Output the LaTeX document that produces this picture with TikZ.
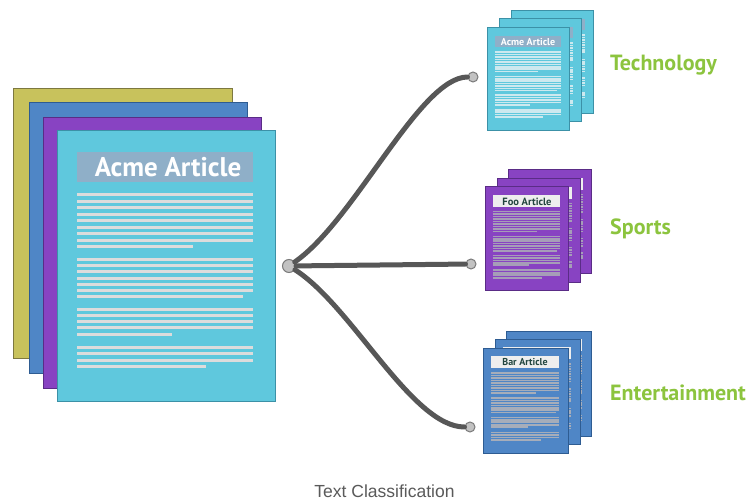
\documentclass[tikz,border=0pt]{standalone}
\usepackage{fontspec}
\setmainfont{Liberation Sans}
\newfontfamily\ptsans{PT Sans}

\definecolor{sheetyellow}{HTML}{C8C25C}
\definecolor{edgeyellow}{HTML}{7D7840}
\definecolor{sheetblue}{HTML}{4F86C6}
\definecolor{edgeblue}{HTML}{2E5C92}
\definecolor{sheetpurple}{HTML}{8843C2}
\definecolor{edgepurple}{HTML}{5A2C86}
\definecolor{sheetcyan}{HTML}{5FC8DD}
\definecolor{edgecyan}{HTML}{3C91A7}
\definecolor{titlebar}{HTML}{8FAFC8}
\definecolor{lightbar}{HTML}{EEEEEE}
\definecolor{stripegray}{HTML}{DCDCDC}
\definecolor{stripecyan}{HTML}{CDE9EF}
\definecolor{stripepurple}{HTML}{A69DB8}
\definecolor{stripeblue}{HTML}{A6ADBA}
\definecolor{titledark}{HTML}{22463F}
\definecolor{labelgreen}{HTML}{8CC43E}
\definecolor{wiregray}{HTML}{575757}
\definecolor{dotfill}{HTML}{C2C2C2}
\definecolor{dotedge}{HTML}{7A7A7A}
\definecolor{captiongray}{HTML}{5A5A5A}

% One article page: #1,#2 top-left corner, #3 scale, #4 fill, #5 border,
% #6 title bar colour, #7 text-line colour, #8 text-line width
\newcommand{\articlesheet}[8]{%
  \begin{scope}[shift={(#1,#2)},scale=#3]
    \draw[fill=#4,draw=#5,line width=1pt] (0,0) rectangle (218,270);
    \fill[#6] (20,21) rectangle (196,51);
    \begin{scope}[draw=#7,line width=#8]
      \foreach \k in {0,...,7} \draw (20,64+6.45*\k) -- (196,64+6.45*\k);
      \draw (20,115.6) -- (136,115.6);
      \foreach \k in {0,...,5} \draw (20,128.3+6.25*\k) -- (196,128.3+6.25*\k);
      \draw (20,165.8) -- (186,165.8);
      \foreach \k in {0,...,3} \draw (20,178+6.25*\k) -- (196,178+6.25*\k);
      \draw (20,203) -- (115,203);
      \foreach \k in {0,...,2} \draw (20,216.3+6.45*\k) -- (196,216.3+6.45*\k);
      \draw (20,235.7) -- (149,235.7);
    \end{scope}
  \end{scope}}

\tikzset{
  backsheet/.style={line width=1pt},
  wire/.style={draw=wiregray,line width=5pt,line cap=round},
  hubdot/.style={circle,fill=dotfill,draw=dotedge,line width=1pt,minimum size=13pt,inner sep=0pt},
  enddot/.style={circle,fill=dotfill,draw=dotedge,line width=1pt,minimum size=10pt,inner sep=0pt},
  category/.style={font=\ptsans\bfseries\fontsize{22}{22}\selectfont,text=labelgreen,anchor=base west,inner sep=0pt},
}

\begin{document}
\begin{tikzpicture}[x=1pt,y=-1pt]
  \useasboundingbox (0,0) rectangle (754,502);
  \fill[white] (0,0) rectangle (754,502);

  % large stack of incoming articles
  \draw[backsheet,fill=sheetyellow,draw=edgeyellow] (13,89) rectangle (232,358);
  \draw[backsheet,fill=sheetblue,draw=edgeblue] (29,103) rectangle (247,373);
  \draw[backsheet,fill=sheetpurple,draw=edgepurple] (43,118) rectangle (261,388);
  \articlesheet{57}{131}{1}{sheetcyan}{edgecyan}{titlebar}{stripegray}{3pt}
  \node[anchor=base,text=white,inner sep=0pt,font=\ptsans\bfseries\fontsize{27}{27}\selectfont]
    (bigtitle) at (168,177) {Acme Article};

  % technology stack
  \articlesheet{511}{11}{0.378}{sheetcyan}{edgecyan}{titlebar}{stripecyan}{1.6pt}
  \articlesheet{499}{19}{0.378}{sheetcyan}{edgecyan}{titlebar}{stripecyan}{1.6pt}
  \articlesheet{487}{28}{0.378}{sheetcyan}{edgecyan}{titlebar}{stripecyan}{1.6pt}
  \node[text=white,inner sep=0pt,font=\ptsans\bfseries\fontsize{10}{10}\selectfont]
    (techtitle) at (528,42) {Acme Article};

  % sports stack
  \articlesheet{508}{170}{0.385}{sheetpurple}{edgepurple}{lightbar}{stripepurple}{1.6pt}
  \articlesheet{497}{179}{0.385}{sheetpurple}{edgepurple}{lightbar}{stripepurple}{1.6pt}
  \articlesheet{485}{187}{0.385}{sheetpurple}{edgepurple}{lightbar}{stripepurple}{1.6pt}
  \node[text=titledark,inner sep=0pt,font=\ptsans\bfseries\fontsize{10.5}{10.5}\selectfont]
    (sporttitle) at (527,201.5) {Foo Article};

  % entertainment stack
  \articlesheet{506}{331}{0.39}{sheetblue}{edgeblue}{lightbar}{stripeblue}{1.6pt}
  \articlesheet{495}{339}{0.39}{sheetblue}{edgeblue}{lightbar}{stripeblue}{1.6pt}
  \articlesheet{483}{348}{0.39}{sheetblue}{edgeblue}{lightbar}{stripeblue}{1.6pt}
  \node[text=titledark,inner sep=0pt,font=\ptsans\bfseries\fontsize{10}{10}\selectfont]
    (enttitle) at (525,362.5) {Bar Article};

  % classifier fan-out
  \node[hubdot] (hub) at (289,266) {};
  \node[enddot] (tech) at (473,77) {};
  \node[enddot] (sport) at (471,264) {};
  \node[enddot] (ent) at (470,427) {};
  \draw[wire] (hub) .. controls (355,220) and (420,77) .. (tech);
  \draw[wire] (hub) -- (sport);
  \draw[wire] (hub) .. controls (352,306) and (412,427) .. (ent);

  % category labels
  \node[category] (techlabel) at (610,71) {Technology};
  \node[category] (sportlabel) at (610,235) {Sports};
  \node[category] (entlabel) at (610,400) {Entertainment};

  % caption
  \node[anchor=base,inner sep=0pt,text=captiongray,font=\fontsize{17.5}{17.5}\selectfont]
    (caption) at (384.5,497.5) {Text Classification};
\end{tikzpicture}
\end{document}
